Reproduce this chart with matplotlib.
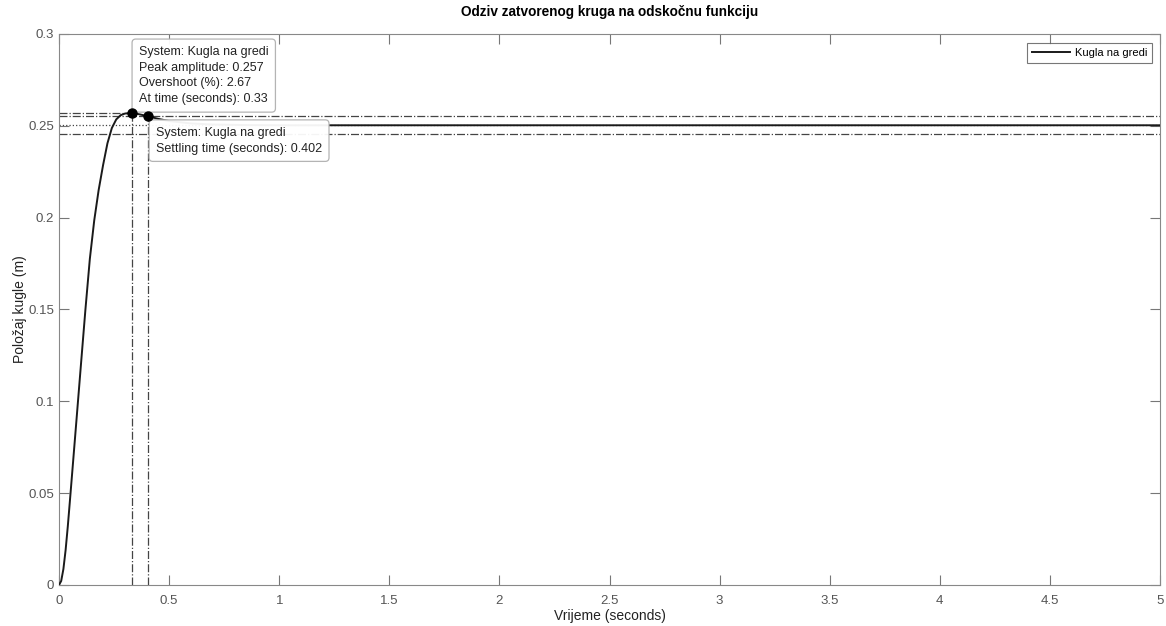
import matplotlib
matplotlib.use('Agg')
import matplotlib.pyplot as plt

# odziv ocitan sa slike (vrijeme u s, polozaj u m)
vrijeme = [0, 0.01, 0.02, 0.03, 0.04, 0.05, 0.06, 0.08, 0.10, 0.12, 0.14, 0.16,
           0.18, 0.20, 0.22, 0.24, 0.26, 0.28, 0.30, 0.33, 0.36, 0.402, 0.45,
           0.5, 0.6, 0.7, 0.85, 1.0, 2.0, 3.0, 4.0, 5.0]
polozaj = [0, 0.0022, 0.0087, 0.019, 0.032, 0.0465, 0.0612, 0.0908, 0.1205, 0.150, 0.1775, 0.1985,
           0.2150, 0.2285, 0.2405, 0.2488, 0.2535, 0.2558, 0.2567, 0.2570, 0.2564, 0.2553, 0.2538,
           0.2526, 0.2513, 0.2507, 0.2504, 0.2503, 0.2503, 0.2503, 0.2503, 0.2503]

konacna = 0.2503
vrh_t, vrh_y = 0.33, 0.257
ts_t, ts_y = 0.402, 0.2553
gornja, donja = 0.2553, 0.2453

xticks = [0, 0.5, 1, 1.5, 2, 2.5, 3, 3.5, 4, 4.5, 5]
xlabels = ['0', '0.5', '1', '1.5', '2', '2.5', '3', '3.5', '4', '4.5', '5']
yticks = [0, 0.05, 0.1, 0.15, 0.2, 0.25, 0.3]
ylabels = ['0', '0.05', '0.1', '0.15', '0.2', '0.25', '0.3']

plt.rcParams['font.family'] = ['Liberation Sans', 'DejaVu Sans']

fig = plt.figure(figsize=(11.66, 6.26), dpi=100)
ax = fig.add_axes([0.0506, 0.0655, 0.9443, 0.8802])

ax.plot(vrijeme, polozaj, color='#1a1a1a', lw=1.4, label='Kugla na gredi', zorder=3,
        solid_joinstyle='round')

# karakteristike odziva
lc = '#444444'
ax.plot([0, 5], [konacna, konacna], color=lc, lw=0.9, ls=':', zorder=2)
ax.plot([0, 5], [gornja, gornja], color=lc, lw=0.9, ls='-.', zorder=2)
ax.plot([0, 5], [donja, donja], color=lc, lw=0.9, ls='-.', zorder=2)
ax.plot([0, vrh_t], [vrh_y, vrh_y], color=lc, lw=0.9, ls='-.', zorder=2)
ax.plot([vrh_t, vrh_t], [0, vrh_y], color=lc, lw=0.9, ls='-.', zorder=2)
ax.plot([ts_t, ts_t], [0, ts_y], color=lc, lw=0.9, ls='-.', zorder=2)
ax.plot([vrh_t, ts_t], [vrh_y, ts_y], 'o', color='black', ms=6.5, zorder=6)

box = dict(boxstyle='round,pad=0.55,rounding_size=0.3', fc='white', ec='#b0b0b0', lw=0.9, alpha=0.95)
ax.text(0.363, 0.2935,
        'System: Kugla na gredi\nPeak amplitude: 0.257\nOvershoot (%): 2.67\nAt time (seconds): 0.33',
        fontsize=9, color='#222222', va='top', ha='left', bbox=box, linespacing=1.42, zorder=5)
ax.text(0.4405, 0.2495,
        'System: Kugla na gredi\nSettling time (seconds): 0.402',
        fontsize=9, color='#222222', va='top', ha='left', bbox=box, linespacing=1.42, zorder=5)

ax.set_xlim(0, 5)
ax.set_ylim(0, 0.3)
ax.set_xticks(xticks)
ax.set_xticklabels(xlabels)
ax.set_yticks(yticks)
ax.set_yticklabels(ylabels)
ax.tick_params(direction='in', length=7, width=0.8, colors='#777777', labelcolor='#555555',
               labelsize=9.5, top=True, right=True)
ax.tick_params(axis='x', pad=7)
for s in ax.spines.values():
    s.set_color('#888888')
    s.set_linewidth(0.8)

ax.set_title('Odziv zatvorenog kruga na odskočnu funkciju', fontsize=9.8, fontweight='bold', pad=13)
ax.set_xlabel('Vrijeme (seconds)', fontsize=10, color='#222222', labelpad=2)
ax.set_ylabel('Položaj kugle (m)', fontsize=10, color='#222222', labelpad=1)

leg = ax.legend(loc='upper right', fontsize=8, frameon=True, fancybox=False,
                handlelength=3.4, handletextpad=0.4, borderpad=0.45, borderaxespad=0,
                bbox_to_anchor=(0.9927, 0.9837))
leg.get_frame().set_edgecolor('#555555')
leg.get_frame().set_linewidth(0.8)

fig.savefig('out.png', dpi=100)
